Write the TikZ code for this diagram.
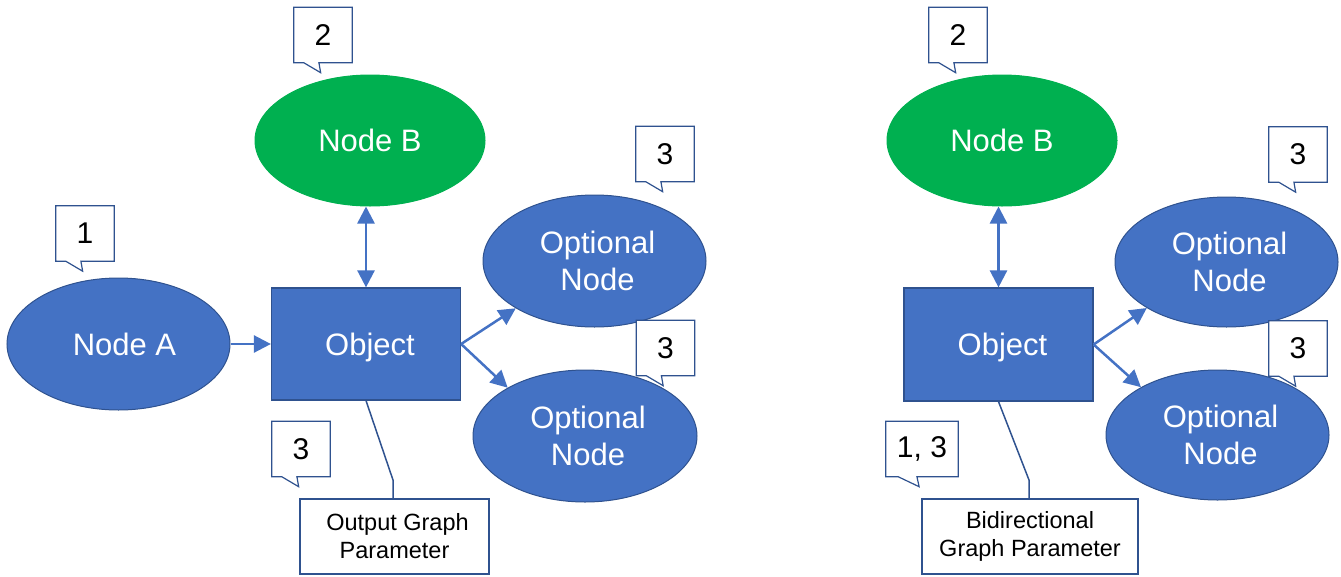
\documentclass[tikz,border=0pt]{standalone}
\usepackage{fontspec}
\setmainfont{Liberation Sans}
\usetikzlibrary{shapes.geometric,arrows.meta,calc}
\definecolor{nodeblue}{HTML}{4472C4}
\definecolor{edgeblue}{HTML}{2F528F}
\definecolor{nodegreen}{HTML}{00B050}
\tikzset{
  ovalnode/.style={ellipse, fill=nodeblue, draw=edgeblue, line width=1pt,
    text=white, inner sep=0pt, align=center,
    font=\fontsize{31}{36.5}\selectfont},
  greennode/.style={ovalnode, fill=nodegreen, draw=nodegreen},
  objbox/.style={rectangle, fill=nodeblue, draw=edgeblue, line width=1.2pt,
    minimum width=189pt, minimum height=112pt, inner sep=0pt, text=white,
    text depth=0pt, font=\fontsize{31}{36.5}\selectfont},
  flow/.style={draw=nodeblue, line width=2.5pt, -{Triangle[length=17pt,width=17pt]}},
  bothflow/.style={draw=nodeblue, line width=2.5pt,
    {Triangle[length=17pt,width=17pt]}-{Triangle[length=17pt,width=17pt]}},
  notebox/.style={rectangle, draw=edgeblue, line width=1.2pt, fill=white,
    align=center, font=\fontsize{23.5}{28}\selectfont,
    minimum height=75pt, inner sep=0pt},
  bubblebox/.style={rectangle, minimum height=55pt, inner sep=0pt,
    font=\fontsize{30}{36}\selectfont},
  bubbleline/.style={draw=edgeblue, line width=1.2pt, fill=white, line join=miter},
  tether/.style={draw=edgeblue, line width=1.5pt},
}
% speech-bubble marker: name, centre, width, text
\newcommand\bubble[4]{%
  \node[bubblebox, minimum width=#3] (#1) at (#2) {};
  \draw[bubbleline] (#1.north west) -- (#1.north east) -- (#1.south east)
    -- ($(#1.south west)!0.43!(#1.south east)$)
    -- ($(#1.south west)!0.46!(#1.south east)+(0,10)$)
    -- ($(#1.south west)!0.17!(#1.south east)$)
    -- (#1.south west) -- cycle;
  \node[bubblebox, minimum width=#3] (#1-t) at (#1) {#4};
}
% labels sit a little right of their shape's centre
\newcommand\rt[2]{\hspace*{#1}#2}
\begin{document}
\begin{tikzpicture}[x=1pt,y=-1pt]
\useasboundingbox (0,0) rectangle (1341,576);

% ---------- output graph parameter ----------
\node[greennode, minimum width=230pt, minimum height=131pt] (lB) at (370,140.5) {Node B};
\node[ovalnode, minimum width=223pt, minimum height=132pt] (lA) at (118.5,344) {\rt{12pt}{Node A}};
\node[objbox] (lObj) at (366,344) {\rt{8pt}{Object}};
\node[ovalnode, minimum width=223pt, minimum height=132pt] (lO1) at (594.5,261) {\rt{6pt}{Optional}\\\rt{6pt}{Node}};
\node[ovalnode, minimum width=224pt, minimum height=132pt] (lO2) at (585,436) {\rt{6pt}{Optional}\\\rt{6pt}{Node}};
\node[notebox, minimum width=189pt] (lNote) at (394.5,536.5) {\rt{6pt}{Output Graph}\\Parameter};
\coordinate (lBend) at (393,480);

\draw[flow] (lA.east) -- (lObj.west);
\draw[bothflow] (lObj.north |- lB.south) -- (lObj.north);
\draw[flow] (lObj.east) -- (lO1.211);
\draw[flow] (lObj.east) -- (lO2.148);
\draw[tether] (lObj.south) -- (lBend) -- (lBend |- lNote.north);

\bubble{lc1}{85,233.5}{58pt}{1}
\bubble{lc2}{323,35}{58pt}{2}
\bubble{lc3}{665,154}{58pt}{3}
\bubble{lc4}{665.5,348}{58pt}{3}
\bubble{lc5}{301,449}{58pt}{3}

% ---------- bidirectional graph parameter ----------
\node[greennode, minimum width=230pt, minimum height=131pt] (rB) at (1002,140.5) {Node B};
\node[objbox, minimum height=113pt] (rObj) at (998.5,344.5) {\rt{8pt}{Object}};
\node[ovalnode, minimum width=223pt, minimum height=130pt] (rO1) at (1226.5,262) {\rt{6pt}{Optional}\\\rt{6pt}{Node}};
\node[ovalnode, minimum width=223pt, minimum height=130pt] (rO2) at (1217.5,435) {\rt{6pt}{Optional}\\\rt{6pt}{Node}};
\node[notebox, minimum width=216pt] (rNote) at (1030,536.5) {Bidirectional\\Graph Parameter};
\coordinate (rBend) at (1029,480);

\draw[bothflow] (rObj.north |- rB.south) -- (rObj.north);
\draw[flow] (rObj.east) -- (rO1.210);
\draw[flow] (rObj.east) -- (rO2.148);
\draw[tether] (rObj.south) -- (rBend) -- (rBend |- rNote.north);

\bubble{rc2}{958,35}{58pt}{2}
\bubble{rc3}{1298,154.5}{58pt}{3}
\bubble{rc4}{1298,348.5}{58pt}{3}
\bubble{rc5}{922,449}{72pt}{1, 3}
\end{tikzpicture}
\end{document}
